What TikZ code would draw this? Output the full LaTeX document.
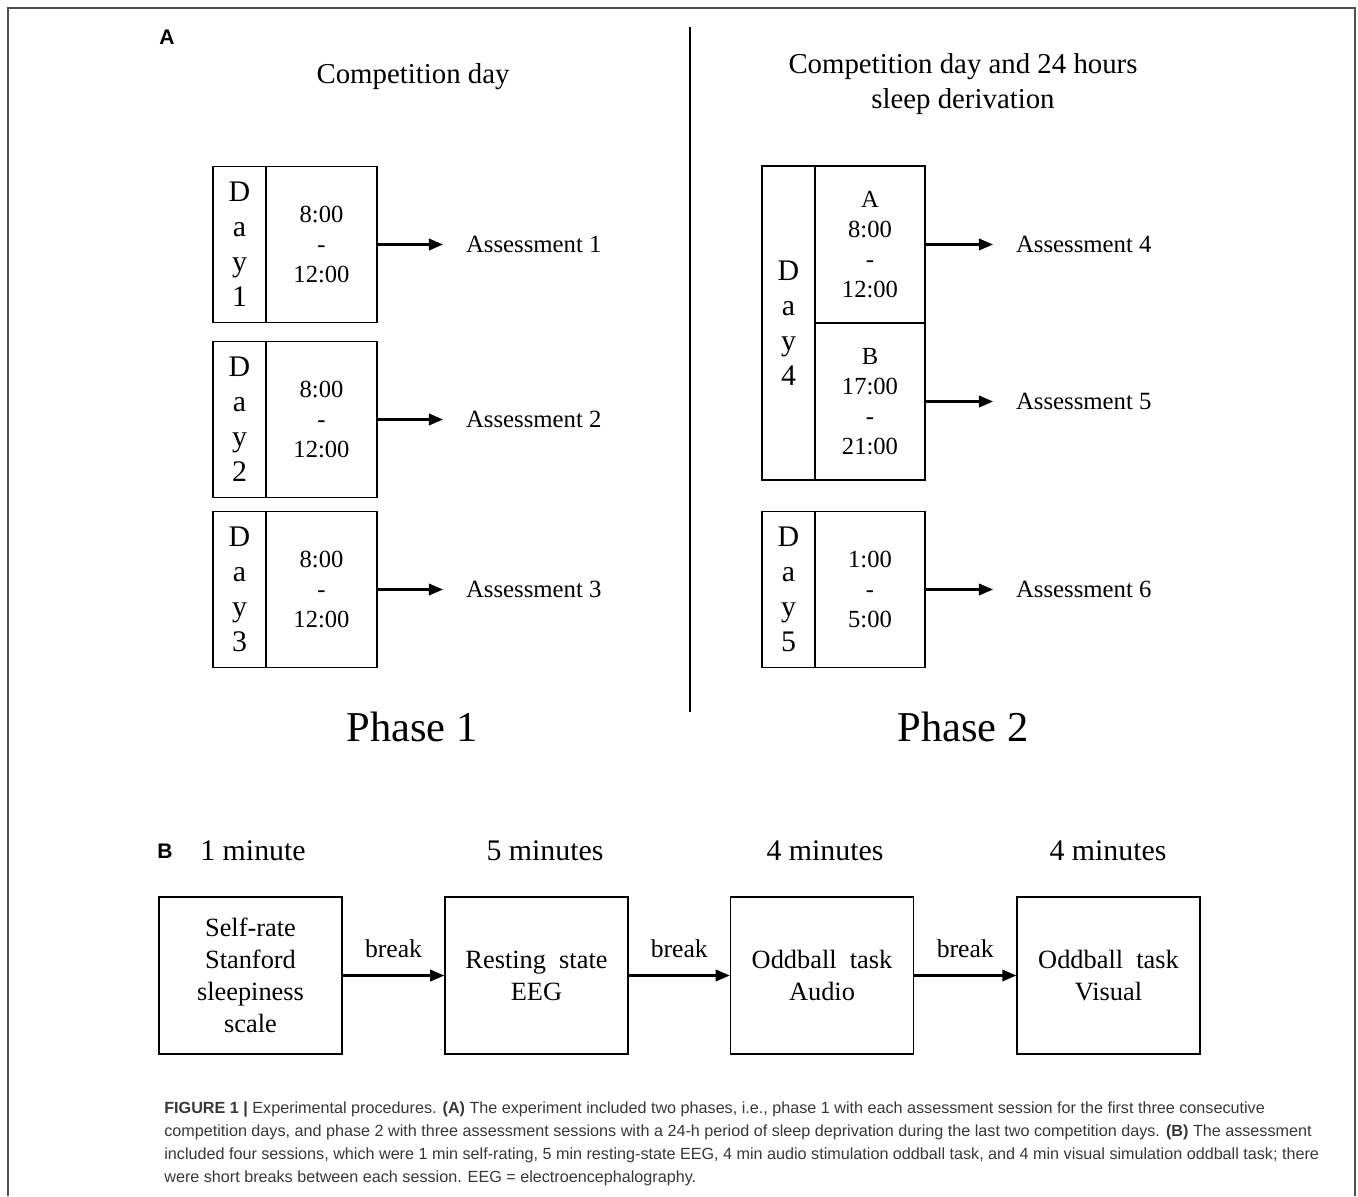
\documentclass[tikz,border=0pt]{standalone}
\usepackage{fontspec}
\setmainfont{Liberation Serif}
\setsansfont{Liberation Sans}
\usepackage{tikz}
\usetikzlibrary{arrows.meta, positioning}
\definecolor{framegray}{RGB}{80, 80, 80}
\definecolor{captext}{RGB}{55, 55, 55}

\begin{document}
\begin{tikzpicture}[
    daycol/.style={draw, line width=0.8pt, minimum width=1.06cm, minimum height=3.12cm,
                   inner sep=0pt, align=center, font=\fontsize{17}{19.9}\selectfont},
    timebox/.style={draw, line width=0.8pt, minimum width=2.22cm, minimum height=3.12cm,
                    inner sep=0pt, align=center, font=\fontsize{14}{17.1}\selectfont},
    assess/.style={anchor=west, inner sep=0pt, outer sep=0.46cm,
                   font=\fontsize{14.1}{16}\selectfont},
    session/.style={draw, line width=0.8pt, minimum width=3.66cm, minimum height=3.14cm,
                    inner sep=0pt, align=center, font=\fontsize{15}{18.2}\selectfont},
    title/.style={align=center, font=\fontsize{16.4}{19.9}\selectfont},
    phase/.style={font=\fontsize{24.2}{28}\selectfont},
    duration/.style={font=\fontsize{17}{20}\selectfont},
    panel/.style={font=\sffamily\bfseries\fontsize{12}{14}\selectfont},
    brk/.style={above=6pt, font=\fontsize{14.6}{17}\selectfont},
    arrow/.style={-{Triangle[length=8pt, width=6.5pt]}, line width=1.3pt},
    caption/.style={align=left, inner sep=0pt, text=captext,
                    font=\sffamily\fontsize{9.2}{13.1}\selectfont},
]
  \useasboundingbox (0,0) rectangle (27.16,-23.92);
  \draw[framegray, line width=1.3pt] (0.16,-23.92) -- (0.16,-0.16) -- (27.1,-0.16) -- (27.1,-23.92);

  % panel A
  \node[panel] (labA) at (3.34,-0.74) {A};
  \node[title] (tit1) at (8.26,-1.54) {Competition day};
  \node[title] (tit2) at (19.26,-1.69) {Competition day and 24 hours\\sleep derivation};
  \coordinate (divtop) at (13.8,-0.54);
  \coordinate (divbot) at (13.8,-14.24);
  \draw[line width=1.5pt] (divtop) -- (divbot);

  % phase 1
  \node[daycol]  (d1) at (4.79,-4.89)  {D\\a\\y\\1};
  \node[timebox] (t1) at (6.43,-4.89)  {8:00\\-\\12:00};
  \node[daycol]  (d2) at (4.79,-8.39)  {D\\a\\y\\2};
  \node[timebox] (t2) at (6.43,-8.39)  {8:00\\-\\12:00};
  \node[daycol]  (d3) at (4.79,-11.79) {D\\a\\y\\3};
  \node[timebox] (t3) at (6.43,-11.79) {8:00\\-\\12:00};

  \node[assess] (as1) at (8.86,-4.89)  {Assessment 1};
  \node[assess] (as2) at (8.86,-8.39)  {Assessment 2};
  \node[assess] (as3) at (8.86,-11.79) {Assessment 3};
  \draw[arrow] (t1.east) -- (as1.west);
  \draw[arrow] (t2.east) -- (as2.west);
  \draw[arrow] (t3.east) -- (as3.west);

  % phase 2
  \node[daycol, minimum height=6.28cm] (d4) at (15.77,-6.46) {D\\a\\y\\4};
  \node[timebox, minimum width=2.2cm, minimum height=3.14cm] (t4a) at (17.4,-4.89) {A\\8:00\\-\\12:00};
  \node[timebox, minimum width=2.2cm, minimum height=3.14cm] (t4b) at (17.4,-8.03) {B\\17:00\\-\\21:00};
  \node[daycol]  (d5) at (15.77,-11.79) {D\\a\\y\\5};
  \node[timebox, minimum width=2.2cm] (t5) at (17.4,-11.79) {1:00\\-\\5:00};

  \node[assess] (as4) at (19.86,-4.89)  {Assessment 4};
  \node[assess] (as5) at (19.86,-8.03)  {Assessment 5};
  \node[assess] (as6) at (19.86,-11.79) {Assessment 6};
  \draw[arrow] (t4a.east) -- (as4.west);
  \draw[arrow] (t4b.east) -- (as5.west);
  \draw[arrow] (t5.east)  -- (as6.west);

  \node[phase] (ph1) at (8.24,-14.54)  {Phase 1};
  \node[phase] (ph2) at (19.26,-14.54) {Phase 2};

  % panel B
  \node[panel] (labB) at (3.3,-17.02) {B};
  \node[duration] (m1) at (5.06,-17.02)  {1 minute};
  \node[duration] (m2) at (10.9,-17.02)  {5 minutes};
  \node[duration] (m3) at (16.5,-17.02)  {4 minutes};
  \node[duration] (m4) at (22.16,-17.02) {4 minutes};

  \node[session] (s1) at (5.01,-19.51)  {Self-rate\\Stanford\\sleepiness\\scale};
  \node[session] (s2) at (10.73,-19.51) {Resting~~state\\EEG};
  \node[session] (s3) at (16.44,-19.51) {Oddball~~task\\Audio};
  \node[session] (s4) at (22.17,-19.51) {Oddball~~task\\Visual};

  \draw[arrow] (s1.east) -- node[brk] {break} (s2.west);
  \draw[arrow] (s2.east) -- node[brk] {break} (s3.west);
  \draw[arrow] (s3.east) -- node[brk] {break} (s4.west);

  % caption
  \node[caption, anchor=north west] (cap) at (3.28,-22.02) {%
    \textbf{FIGURE 1 \textbar} Experimental procedures. \textbf{(A)} The experiment included two phases, i.e., phase 1 with each assessment session for the first three consecutive\\
    competition days, and phase 2 with three assessment sessions with a 24-h period of sleep deprivation during the last two competition days. \textbf{(B)} The assessment\\
    included four sessions, which were 1 min self-rating, 5 min resting-state EEG, 4 min audio stimulation oddball task, and 4 min visual simulation oddball task; there\\
    were short breaks between each session. EEG = electroencephalography.};
\end{tikzpicture}
\end{document}
